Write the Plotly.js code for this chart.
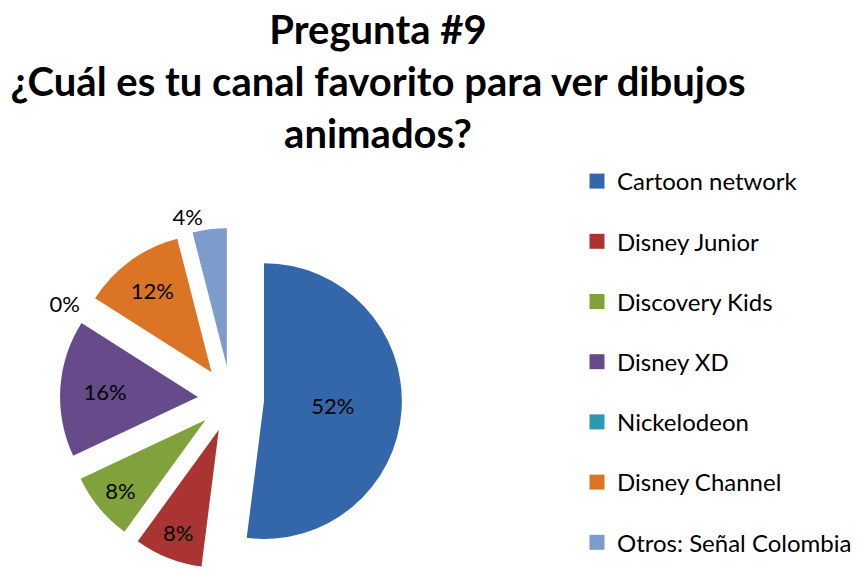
<!DOCTYPE html>
<html><head><meta charset="utf-8">
<script src="https://cdn.plot.ly/plotly-3.0.1.min.js"></script>
<style>html,body{margin:0;padding:0;background:#fff;overflow:hidden}</style>
</head><body><div id="chart" style="width:857px;height:570px"></div>
<script>
const categories = ['Cartoon network','Disney Junior','Discovery Kids','Disney XD','Nickelodeon','Disney Channel','Otros: Señal Colombia'];
const values = [52, 8, 8, 16, 0, 12, 4];
const colors = ['#3467AA','#A93431','#80A23D','#664A8A','#2C99B1','#DB7424','#7D9BCB'];
const labelPositions = ['inside','inside','inside','inside','outside','inside','outside'];
const titleLines = ['Pregunta #9','¿Cuál es tu canal favorito para ver dibujos','animados?'];

const FONT = 'Lato, "Open Sans", sans-serif';
const pie = {
  type: 'pie',
  labels: categories,
  values: values,
  sort: false,
  direction: 'clockwise',
  rotation: 0,
  pull: values.map(() => 0.24),
  marker: {colors: colors, line: {width: 0}},
  texttemplate: '%{percent:.0%}',
  textposition: labelPositions,
  insidetextorientation: 'horizontal',
  textfont: {family: FONT, size: 22, color: '#000'},
  showlegend: false,
  domain: {x: [0.07, 0.469], y: [0, 0.6]},
  hoverinfo: 'label+percent'
};
const legendTraces = categories.map((c, i) => ({
  type: 'scatter', mode: 'markers', x: [null], y: [null],
  name: c, legendgroup: 'g' + i, showlegend: true,
  marker: {symbol: 'square', size: 15, color: colors[i]},
  hoverinfo: 'skip'
}));
const layout = {
  width: 857, height: 570,
  margin: {l: 0, r: 0, t: 0, b: 0},
  paper_bgcolor: '#fff', plot_bgcolor: '#fff',
  font: {family: FONT, color: '#000'},
  title: {
    text: titleLines.join('<br>'),
    font: {family: FONT, size: 40, weight: 'bold', color: '#000'},
    x: 378 / 857, xanchor: 'center', y: 1 - 44 / 570, yanchor: 'top'
  },
  xaxis: {visible: false}, yaxis: {visible: false},
  legend: {
    x: 577 / 857, xanchor: 'left', y: 1 - 159 / 570, yanchor: 'top',
    font: {family: FONT, size: 24, color: '#000'},
    tracegroupgap: 26, bgcolor: 'rgba(0,0,0,0)', itemclick: false
  },
  showlegend: true
};
Plotly.newPlot('chart', [pie].concat(legendTraces), layout, {displayModeBar: false});
</script></body></html>
